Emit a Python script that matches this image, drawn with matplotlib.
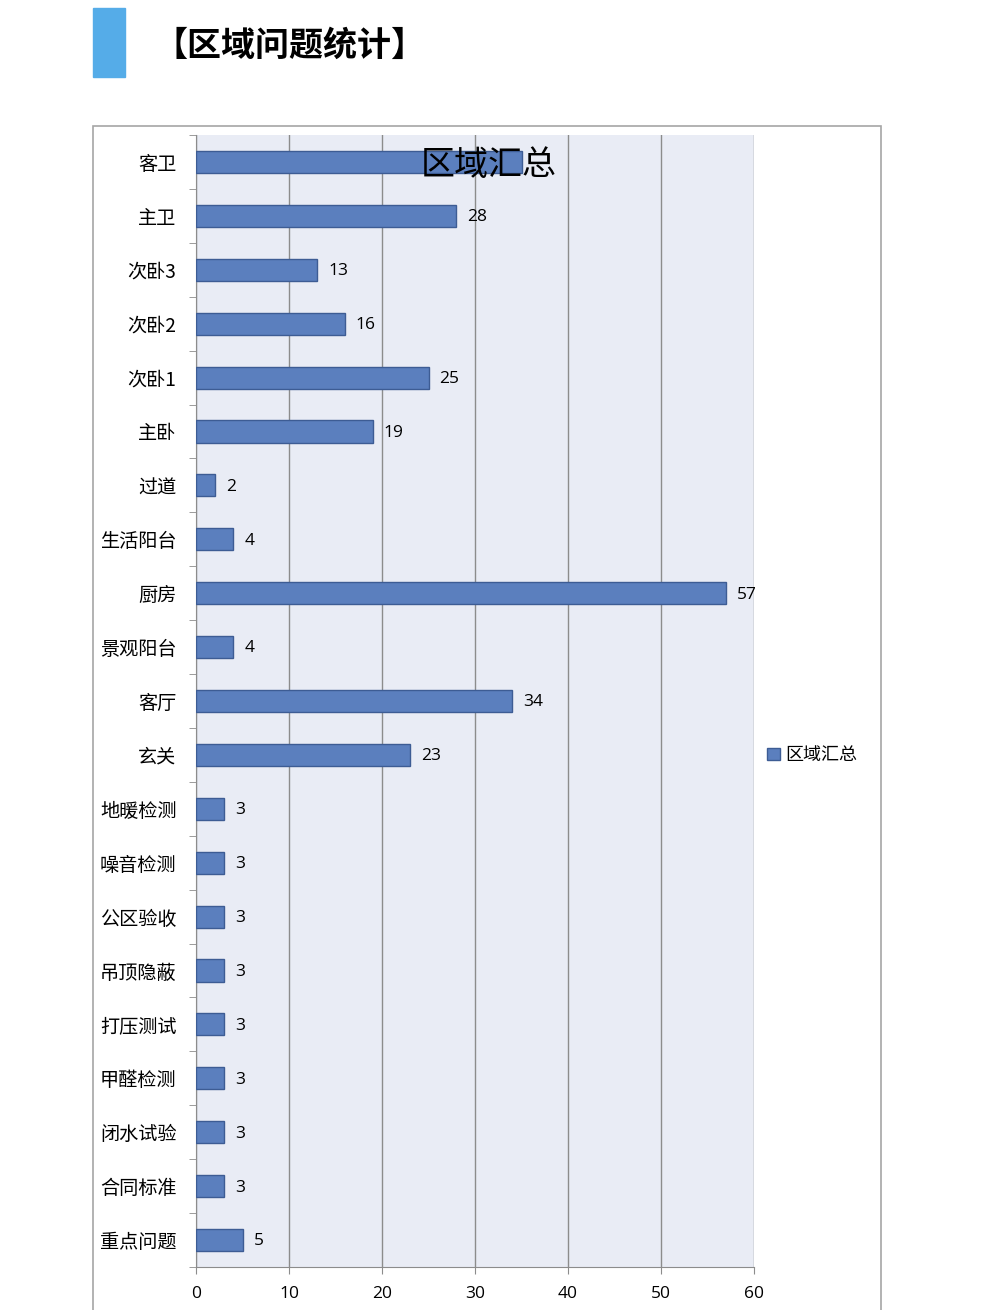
import matplotlib.pyplot as plt
from matplotlib.patches import Rectangle

plt.rcParams['font.family'] = ['Noto Sans CJK SC', 'DejaVu Sans']

categories = ["客卫", "主卫", "次卧3", "次卧2", "次卧1", "主卧", "过道", "生活阳台", "厨房",
              "景观阳台", "客厅", "玄关", "地暖检测", "噪音检测", "公区验收", "吊顶隐蔽",
              "打压测试", "甲醛检测", "闭水试验", "合同标准", "重点问题"]
values = [35, 28, 13, 16, 25, 19, 2, 4, 57, 4, 34, 23, 3, 3, 3, 3, 3, 3, 3, 3, 5]
xticks = [0, 10, 20, 30, 40, 50, 60]

fig = plt.figure(figsize=(9.82, 13.10), dpi=100)

# header block
fig.patches.append(Rectangle((93 / 982, 1 - 77 / 1310), 32 / 982, 69 / 1310,
                             transform=fig.transFigure, color="#55ACE8"))
fig.text(153 / 982, 1 - 45 / 1310, "【区域问题统计】", fontsize=24.5, fontweight="bold",
         va="center", ha="left")

# outer chart frame
fig.patches.append(Rectangle((93 / 982, -0.01), 788 / 982, 1.01 - 126 / 1310,
                             transform=fig.transFigure, fill=False, edgecolor="#A6A6A6", lw=1.2))

ax = fig.add_axes([196 / 982, 1 - 1267 / 1310, 558 / 982, 1132 / 1310])
ax.set_facecolor("#E9ECF5")

n = len(categories)
pos = list(range(n))
bars = ax.barh(pos, values, height=0.41, color="#5B7FBE", edgecolor="#3D5C94", lw=1,
               label="区域汇总", zorder=3)

for i, v in enumerate(values):
    if i == 0:
        continue  # hidden under chart title
    ax.annotate(str(v), (v, i), xytext=(8, -1), textcoords="offset points",
                va="center", ha="left", fontsize=12.5, family=["Open Sans", "DejaVu Sans"])

ax.set_ylim(n - 0.5, -0.5)
ax.set_xlim(0, 60)
ax.set_xticks(xticks)
ax.set_xticklabels([str(t) for t in xticks], fontsize=12.5, family=["Open Sans", "DejaVu Sans"])
ax.tick_params(axis="x", length=5, color="#8C8C8C", pad=9)
ax.set_yticks(pos)
ax.set_yticklabels(categories, fontsize=13.8)
ax.tick_params(axis="y", length=0, pad=14)
ax.set_yticks([p + 0.5 for p in range(-1, n)], minor=True)
ax.tick_params(axis="y", which="minor", length=5, color="#8C8C8C")

ax.grid(axis="x", color="#8C8C8C", lw=1, zorder=0)
ax.set_axisbelow(True)
for s in ["top", "right"]:
    ax.spines[s].set_visible(False)
for s in ["left", "bottom"]:
    ax.spines[s].set_color("#8C8C8C")

ax.text(0.524, 1 - 30 / 1132, "区域汇总", transform=ax.transAxes, fontsize=24.5,
        fontweight="medium", ha="center", va="center", zorder=5)

ax.legend(loc="center left", bbox_to_anchor=(0.995, 0.452), frameon=False, fontsize=13,
          handlelength=0.7, handleheight=0.7, handletextpad=0.3)

fig.savefig("out.png", dpi=100)
